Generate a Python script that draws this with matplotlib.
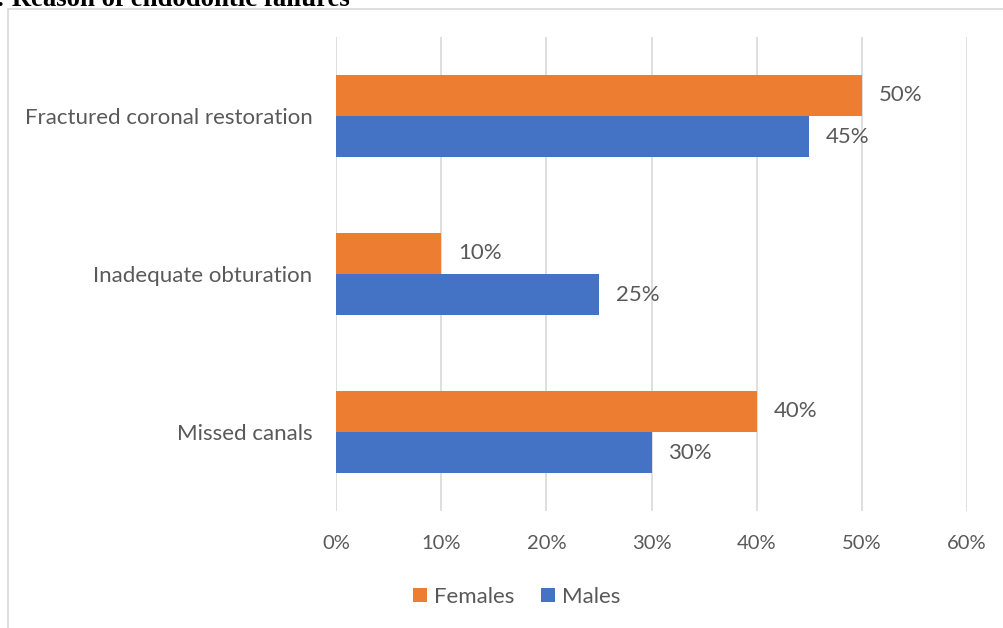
import matplotlib
matplotlib.use("Agg")
import matplotlib.pyplot as plt
from matplotlib.patches import Rectangle
import numpy as np

categories = ["Missed canals", "Inadequate obturation", "Fractured coronal restoration"]
females = [40, 10, 50]
males = [30, 25, 45]
xticks = [0, 10, 20, 30, 40, 50, 60]
xtick_labels = ["0%", "10%", "20%", "30%", "40%", "50%", "60%"]

ORANGE = "#ED7D31"
BLUE = "#4472C4"
GRAY = "#595959"
FONT = ["Lato", "DejaVu Sans"]
FS_TICK = 14.5
FS = 16

W, H = 1004, 628
fig = plt.figure(figsize=(W / 100, H / 100), dpi=100)

# outer chart frame
fig.patches.append(Rectangle((8 / W, -0.1), 1.2, 1 - 9 / H + 0.1, transform=fig.transFigure,
                             fill=False, edgecolor="#D9D9D9", linewidth=1.2))
# clipped title (cut off at the top edge as in the reference)
fig.text(-4 / W, 1 - 6 / H, ": Reason of endodontic failures", fontsize=19.3, fontweight="bold",
         family=["Liberation Serif", "DejaVu Serif"], va="baseline", ha="left", color="black")

ax = fig.add_axes([336 / W, 1 - 511 / H, (967 - 336) / W, (511 - 37) / H])
y = np.arange(len(categories))
h = 0.26
ax.barh(y + h / 2, females, height=h, color=ORANGE, label="Females")
ax.barh(y - h / 2, males, height=h, color=BLUE, label="Males")

for yi, f, m in zip(y, females, males):
    ax.text(f + 1.6, yi + h / 2, f"{f}%", va="center", ha="left", fontsize=FS, color=GRAY, family=FONT)
    ax.text(m + 1.6, yi - h / 2, f"{m}%", va="center", ha="left", fontsize=FS, color=GRAY, family=FONT)

ax.set_xlim(0, 60)
ax.set_ylim(-0.5, 2.5)
ax.set_xticks(xticks)
ax.set_xticklabels(xtick_labels, family=FONT, fontsize=FS_TICK, color=GRAY)
ax.set_yticks(y)
ax.set_yticklabels(categories, family=FONT, fontsize=FS, color=GRAY)
ax.tick_params(axis="both", length=0)
ax.tick_params(axis="x", pad=17)
ax.tick_params(axis="y", pad=17)
ax.grid(axis="x", color="#D9D9D9", linewidth=1.2)
ax.set_axisbelow(True)
for s in ax.spines.values():
    s.set_visible(False)

handles, labels = ax.get_legend_handles_labels()
fig.legend(handles, labels, loc="center", bbox_to_anchor=(517 / W, 1 - 597 / H), ncol=2,
           frameon=False, prop={"family": FONT, "size": FS}, labelcolor=GRAY,
           handlelength=0.6, handleheight=0.6, handletextpad=0.35, columnspacing=1.2)

fig.savefig("out.png", dpi=100)
